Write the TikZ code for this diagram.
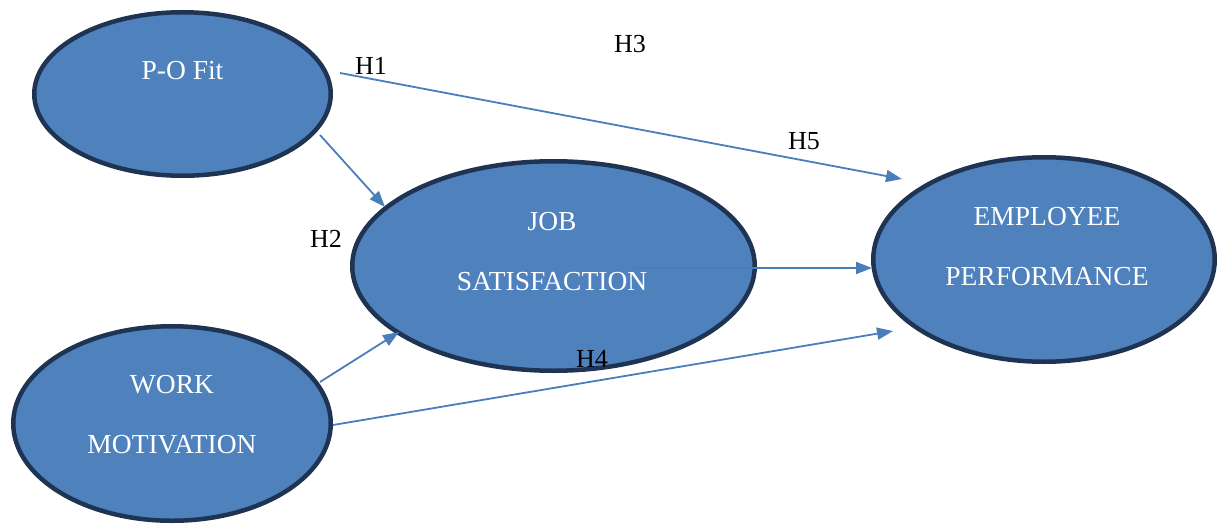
\documentclass[tikz,border=0pt]{standalone}
\usepackage{fontspec}
\setmainfont{Liberation Serif}
\usetikzlibrary{shapes.geometric,arrows.meta}
\definecolor{bubblefill}{RGB}{79,129,189}
\definecolor{bubbleline}{RGB}{30,52,82}
\definecolor{connblue}{RGB}{74,126,187}
\tikzset{
  bubble/.style={ellipse, draw=bubbleline, fill=bubblefill, line width=4.5pt, inner sep=0pt},
  bubbletext/.style={text=white, font=\fontsize{27.5}{30}\selectfont, anchor=base, inner sep=0pt},
  hyplabel/.style={text=black, font=\fontsize{26}{30}\selectfont, anchor=base, inner sep=0pt},
  conn/.style={draw=connblue, line width=1.8pt, -{Triangle[length=16pt,width=12pt]}}
}
\begin{document}
\begin{tikzpicture}[x=1pt,y=-1pt]
\useasboundingbox (0,0) rectangle (1217,524);
% ellipses
\node[bubble, minimum width=296.5pt, minimum height=163.5pt] (po) at (182.5,94) {};
\node[bubble, minimum width=402.5pt, minimum height=209.5pt] (js) at (553.5,266) {};
\node[bubble, minimum width=341.5pt, minimum height=204.5pt] (ep) at (1044,259.5) {};
\node[bubble, minimum width=317.5pt, minimum height=194.5pt] (wm) at (172,423.5) {};
% texts
\node[bubbletext] (potext) at (182.5,80) {P-O Fit};
\node[bubbletext] (jstext1) at (552,230.5) {JOB};
\node[bubbletext] (jstext2) at (552,290.5) {SATISFACTION};
\node[bubbletext] (eptext1) at (1047,225.5) {EMPLOYEE};
\node[bubbletext] (eptext2) at (1047,285.5) {PERFORMANCE};
\node[bubbletext] (wmtext1) at (172,393.5) {WORK};
\node[bubbletext] (wmtext2) at (172,453.5) {MOTIVATION};
% connector ends
\coordinate (poA) at (340,73);
\coordinate (epA) at (902,179);
\coordinate (poB) at (320,135);
\coordinate (jsB) at (385,207);
\coordinate (wmC) at (320,382);
\coordinate (jsC) at (399,332);
\coordinate (wmD) at (333,425);
\coordinate (epD) at (893,331);
\coordinate (jsE) at (635,268);
\coordinate (epE) at (872,268);
% connectors
\draw[conn] (poA) -- (epA);
\draw[conn] (poB) -- (jsB);
\draw[conn] (wmC) -- (jsC);
\draw[conn] (wmD) -- (epD);
\draw[conn] (jsE) -- (epE);
% labels
\node[hyplabel] (h1) at (371,75) {H1};
\node[hyplabel] (h3) at (630,53) {H3};
\node[hyplabel] (h5) at (804,149) {H5};
\node[hyplabel] (h2) at (326,247) {H2};
\node[hyplabel] (h4) at (592,367) {H4};
\end{tikzpicture}
\end{document}
